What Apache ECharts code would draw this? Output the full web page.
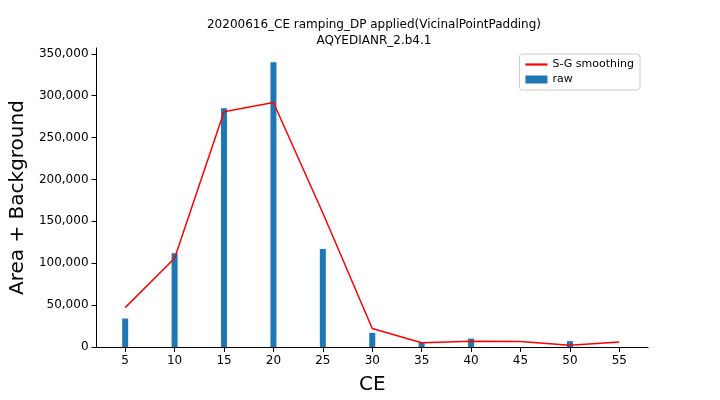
<!DOCTYPE html>
<html>
<head>
<meta charset="utf-8">
<script src="https://cdn.jsdelivr.net/npm/echarts@6/dist/echarts.min.js"></script>
<style>html,body{margin:0;padding:0;background:#fff}</style>
</head>
<body>
<div id="echart" style="width:720px;height:400px"></div>
<script>
var ceValues = [5, 10, 15, 20, 25, 30, 35, 40, 45, 50, 55];
var rawValues = [34000, 112000, 285000, 340000, 117000, 17000, 6000, 10000, 0, 7000, 0];
var smoothValues = [47000, 106000, 281000, 292000, 160000, 22000, 5000, 7000, 6500, 2000, 6000];
var xTicks = [5, 10, 15, 20, 25, 30, 35, 40, 45, 50, 55];

var font = 'DejaVu Sans';
var myChart = echarts.init(document.getElementById('echart'));
var option = {
    animation: false,
    textStyle: {fontFamily: font},
    title: {
        text: '20200616_CE ramping_DP applied(VicinalPointPadding)\nAQYEDIANR_2.b4.1',
        left: 369, top: 12, textAlign: 'center',
        textStyle: {fontFamily: font, fontSize: 12, fontWeight: 'normal', color: '#000', lineHeight: 16}
    },
    legend: {
        right: 80, top: 54, orient: 'vertical', itemGap: 4,
        borderColor: '#ccc', borderWidth: 1, borderRadius: 3, padding: [5, 6],
        textStyle: {fontSize: 11, color: '#000'},
        data: [
            {name: 'S-G smoothing', icon: 'path://M0,0H20V2H0Z'},
            {name: 'raw', icon: 'rect'}
        ],
        itemWidth: 22, itemHeight: 8
    },
    grid: {left: 90, right: 72, top: 48, bottom: 50},
    xAxis: {
        type: 'value', min: 2.1, max: 57.9,
        name: 'CE', nameLocation: 'middle', nameGap: 28,
        nameTextStyle: {fontSize: 20, color: '#000'},
        axisLine: {onZero: false, lineStyle: {color: '#000'}},
        axisTick: {show: true, customValues: xTicks, lineStyle: {color: '#000'}},
        axisLabel: {customValues: xTicks, color: '#000', fontSize: 12},
        splitLine: {show: false}
    },
    yAxis: {
        type: 'value', min: 0, max: 357000, interval: 50000,
        name: 'Area + Background', nameLocation: 'middle', nameGap: 66,
        nameTextStyle: {fontSize: 20, color: '#000'},
        axisLine: {show: true, lineStyle: {color: '#000'}},
        axisTick: {show: true, lineStyle: {color: '#000'}},
        axisLabel: {color: '#000', fontSize: 12, showMaxLabel: false},
        splitLine: {show: false}
    },
    series: [
        {
            name: 'S-G smoothing', type: 'line', symbol: 'none',
            lineStyle: {color: 'red', width: 1.5}, itemStyle: {color: 'red'},
            data: ceValues.map(function (c, i) { return [c, smoothValues[i]]; }),
            z: 3
        },
        {
            name: 'raw', type: 'bar', barWidth: 6,
            itemStyle: {color: '#1f77b4'},
            data: ceValues.map(function (c, i) { return [c, rawValues[i]]; })
        }
    ]
};
myChart.setOption(option);
</script>
</body>
</html>
